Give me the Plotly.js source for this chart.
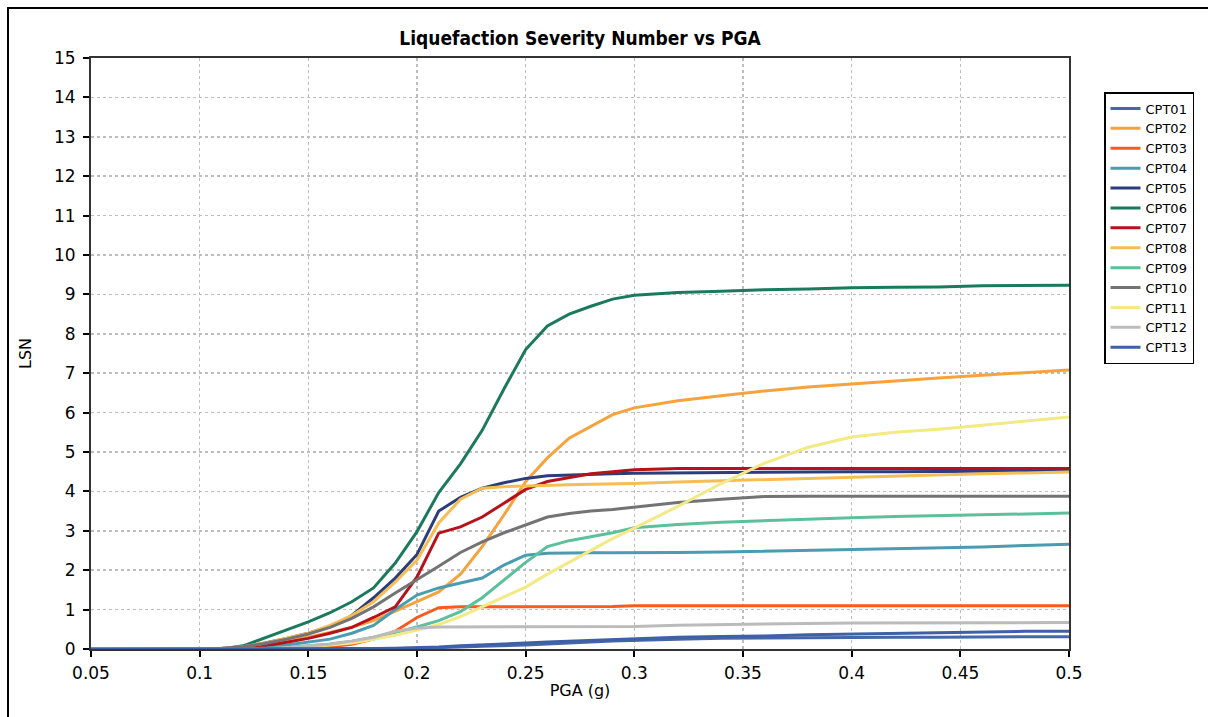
<!DOCTYPE html>
<html>
<head>
<meta charset="utf-8">
<script src="https://cdn.plot.ly/plotly-3.0.1.min.js"></script>
<style>
  html, body { margin: 0; padding: 0; background: #fff; }
  #chart { width: 1208px; height: 717px; }
  #frame { position: absolute; left: 7px; top: 7px; width: 1300px; height: 800px;
           border-left: 2px solid #000; border-top: 2px solid #000; pointer-events: none; }
</style>
</head>
<body>
<div id="chart"></div>
<div id="frame"></div>
<script>
const pga = [0.05, 0.1, 0.11, 0.12, 0.13, 0.14, 0.15, 0.16, 0.17, 0.18, 0.19, 0.2, 0.21, 0.22, 0.23, 0.24, 0.25, 0.26, 0.27, 0.28, 0.29, 0.3, 0.32, 0.34, 0.36, 0.38, 0.4, 0.42, 0.44, 0.46, 0.48, 0.5];

const cpt01 = [0, 0, 0, 0, 0, 0, 0, 0, 0, 0, 0.01, 0.02, 0.03, 0.05, 0.07, 0.08, 0.1, 0.13, 0.16, 0.18, 0.2, 0.22, 0.25, 0.27, 0.28, 0.29, 0.3, 0.3, 0.3, 0.31, 0.31, 0.31];
const cpt02 = [0, 0, 0, 0.03, 0.1, 0.2, 0.3, 0.42, 0.55, 0.72, 0.95, 1.2, 1.45, 1.9, 2.6, 3.4, 4.25, 4.85, 5.35, 5.65, 5.95, 6.12, 6.3, 6.43, 6.55, 6.65, 6.73, 6.8, 6.88, 6.95, 7.02, 7.08];
const cpt03 = [0, 0, 0, 0, 0, 0.01, 0.03, 0.06, 0.12, 0.25, 0.45, 0.8, 1.05, 1.07, 1.07, 1.07, 1.07, 1.07, 1.07, 1.07, 1.08, 1.1, 1.1, 1.1, 1.1, 1.1, 1.1, 1.1, 1.1, 1.1, 1.1, 1.1];
const cpt04 = [0, 0, 0, 0.02, 0.05, 0.1, 0.17, 0.25, 0.4, 0.6, 1.0, 1.37, 1.55, 1.68, 1.8, 2.13, 2.38, 2.43, 2.44, 2.44, 2.44, 2.44, 2.45, 2.46, 2.48, 2.5, 2.52, 2.54, 2.57, 2.59, 2.63, 2.66];
const cpt05 = [0, 0, 0, 0.05, 0.15, 0.27, 0.4, 0.57, 0.85, 1.3, 1.8, 2.4, 3.5, 3.85, 4.08, 4.22, 4.33, 4.4, 4.42, 4.44, 4.45, 4.46, 4.47, 4.48, 4.48, 4.49, 4.5, 4.5, 4.5, 4.51, 4.52, 4.53];
const cpt06 = [0, 0, 0, 0.08, 0.28, 0.48, 0.69, 0.92, 1.2, 1.55, 2.18, 2.98, 3.97, 4.7, 5.55, 6.6, 7.6, 8.2, 8.5, 8.7, 8.88, 8.98, 9.05, 9.08, 9.12, 9.14, 9.17, 9.18, 9.19, 9.22, 9.23, 9.23];
const cpt07 = [0, 0, 0, 0.03, 0.08, 0.17, 0.27, 0.4, 0.55, 0.8, 1.07, 1.83, 2.94, 3.1, 3.35, 3.7, 4.05, 4.25, 4.35, 4.45, 4.5, 4.55, 4.58, 4.58, 4.58, 4.58, 4.58, 4.58, 4.58, 4.58, 4.58, 4.58];
const cpt08 = [0, 0, 0.02, 0.06, 0.15, 0.27, 0.4, 0.6, 0.85, 1.2, 1.7, 2.26, 3.2, 3.8, 4.08, 4.12, 4.14, 4.15, 4.17, 4.18, 4.19, 4.2, 4.24, 4.27, 4.3, 4.33, 4.37, 4.4, 4.43, 4.45, 4.47, 4.49];
const cpt09 = [0, 0, 0, 0, 0.02, 0.04, 0.08, 0.13, 0.2, 0.3, 0.42, 0.56, 0.72, 0.95, 1.3, 1.75, 2.2, 2.6, 2.75, 2.85, 2.95, 3.08, 3.16, 3.22, 3.26, 3.3, 3.33, 3.36, 3.38, 3.4, 3.43, 3.45];
const cpt10 = [0, 0, 0.02, 0.06, 0.14, 0.25, 0.38, 0.55, 0.78, 1.07, 1.42, 1.75, 2.1, 2.45, 2.72, 2.95, 3.15, 3.35, 3.44, 3.5, 3.54, 3.6, 3.72, 3.8, 3.87, 3.88, 3.88, 3.88, 3.88, 3.88, 3.88, 3.88];
const cpt11 = [0, 0, 0, 0, 0, 0.02, 0.05, 0.1, 0.15, 0.25, 0.35, 0.48, 0.62, 0.82, 1.07, 1.3, 1.57, 1.9, 2.2, 2.5, 2.8, 3.07, 3.62, 4.2, 4.72, 5.12, 5.38, 5.5, 5.58, 5.68, 5.79, 5.89];
const cpt12 = [0, 0, 0, 0, 0, 0.03, 0.07, 0.12, 0.2, 0.3, 0.45, 0.53, 0.56, 0.56, 0.56, 0.56, 0.56, 0.56, 0.56, 0.56, 0.56, 0.57, 0.6, 0.62, 0.64, 0.65, 0.66, 0.66, 0.66, 0.67, 0.67, 0.67];
const cpt13 = [0, 0, 0, 0, 0, 0, 0, 0, 0, 0.01, 0.02, 0.03, 0.05, 0.08, 0.1, 0.12, 0.15, 0.18, 0.2, 0.22, 0.24, 0.25, 0.3, 0.32, 0.33, 0.36, 0.38, 0.4, 0.42, 0.44, 0.45, 0.45];

const seriesNames = ["CPT01", "CPT02", "CPT03", "CPT04", "CPT05", "CPT06", "CPT07", "CPT08", "CPT09", "CPT10", "CPT11", "CPT12", "CPT13"];
const seriesValues = [cpt01, cpt02, cpt03, cpt04, cpt05, cpt06, cpt07, cpt08, cpt09, cpt10, cpt11, cpt12, cpt13];
const seriesColors = ["#4766a8", "#f7a23c", "#fb5a1f", "#4b9cb0", "#2b3e7b", "#1b7a5c", "#b5121b", "#f6bd55", "#5cc09c", "#737373", "#f3e985", "#bbbbbb", "#3e60a6"];

const xTicks = [0.05, 0.1, 0.15, 0.2, 0.25, 0.3, 0.35, 0.4, 0.45, 0.5];
const xTickText = ["0.05", "0.1", "0.15", "0.2", "0.25", "0.3", "0.35", "0.4", "0.45", "0.5"];

const traces = seriesNames.map((n, i) => ({
  x: pga, y: seriesValues[i], name: n, type: 'scatter', mode: 'lines',
  line: { color: seriesColors[i], width: 3, shape: 'linear' }
}));

const font = "'DejaVu Sans', sans-serif";
const layout = {
  width: 1208, height: 717,
  margin: { l: 91, r: 139, t: 58, b: 68 },
  paper_bgcolor: '#fff', plot_bgcolor: '#fff',
  font: { family: font, size: 16, color: '#000' },
  title: { text: 'Liquefaction Severity Number vs PGA', x: 0.5, xanchor: 'center',
           xref: 'paper', y: 1 - 38 / 717, yanchor: 'middle',
           font: { family: "'DejaVu Sans Condensed', 'DejaVu Sans', sans-serif", size: 19, weight: 'bold', color: '#000' } },
  xaxis: {
    range: [0.05, 0.5], tickvals: xTicks, ticktext: xTickText,
    showline: true, linecolor: '#333', linewidth: 2, mirror: true,
    ticks: 'outside', ticklen: 6, tickwidth: 2, tickcolor: '#000',
    showgrid: true, gridcolor: '#bdbdbd', griddash: 'dot', gridwidth: 1.5,
    zeroline: false, ticklabelstandoff: 2,
    tickfont: { family: font, size: 17, color: '#000' },
    title: { text: 'PGA (g)', standoff: 2, font: { family: font, size: 16, color: '#000' } }
  },
  yaxis: {
    range: [0, 15], dtick: 1, tick0: 0,
    showline: true, linecolor: '#333', linewidth: 2, mirror: true,
    ticks: 'outside', ticklen: 6, tickwidth: 2, tickcolor: '#000',
    showgrid: true, gridcolor: '#bdbdbd', griddash: 'dot', gridwidth: 1.5,
    zeroline: false, ticklabelstandoff: 4,
    tickfont: { family: font, size: 17, color: '#000' },
    title: { text: 'LSN', standoff: 18, font: { family: font, size: 16, color: '#000' } }
  },
  legend: {
    x: (1104 - 91) / 978, xanchor: 'left', y: (649 - 92) / 591, yanchor: 'top',
    bgcolor: '#fff', bordercolor: '#000', borderwidth: 1.5,
    font: { family: font, size: 13, color: '#000' },
    tracegroupgap: 0, itemwidth: 30, traceorder: 'normal'
  },
  showlegend: true
};

Plotly.newPlot('chart', traces, layout, { displayModeBar: false, staticPlot: true });
</script>
</body>
</html>
